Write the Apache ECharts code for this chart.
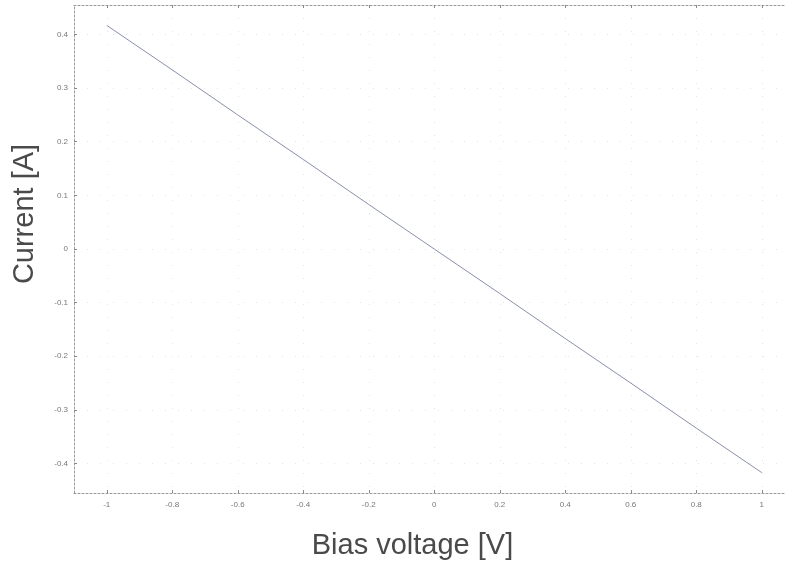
<!DOCTYPE html>
<html><head><meta charset="utf-8">
<script src="https://cdn.jsdelivr.net/npm/echarts@6/dist/echarts.min.js"></script>
<style>html,body{margin:0;padding:0;background:#fff;}#c{width:786px;height:567px;}</style>
</head><body><div id="c"></div>
<script>
var voltage = [-1, -0.8, -0.6, -0.4, -0.2, 0, 0.2, 0.4, 0.6, 0.8, 1];
var current = [0.417, 0.334, 0.250, 0.167, 0.083, 0, -0.083, -0.167, -0.250, -0.334, -0.417];
var xTicks = [-1, -0.8, -0.6, -0.4, -0.2, 0, 0.2, 0.4, 0.6, 0.8, 1];
var yTicks = [-0.4, -0.3, -0.2, -0.1, 0, 0.1, 0.2, 0.3, 0.4];

var chart = echarts.init(document.getElementById('c'), null, {renderer: 'canvas'});
var fmt = function (v) { return (Math.round(v * 10) / 10).toString(); };
var tickStyle = {show: true, inside: true, length: 3, lineStyle: {color: '#888', width: 1}};
var lineStyle = {color: '#999', width: 1, type: [2, 2]};
chart.setOption({
  animation: false,
  backgroundColor: '#fff',
  grid: {left: 74, top: 5, width: 712, height: 488, containLabel: false},
  xAxis: [{
    type: 'value', min: -1.1, max: 1.074, position: 'bottom',
    name: 'Bias voltage [V]', nameLocation: 'middle', nameGap: 38,
    nameTextStyle: {fontFamily: 'Liberation Sans', fontSize: 29, color: '#4a4a4a', padding: [0, 35, 0, 0]},
    axisLine: {show: true, onZero: false, lineStyle: lineStyle},
    axisTick: Object.assign({customValues: xTicks}, tickStyle),
    axisLabel: {customValues: xTicks, formatter: fmt, fontSize: 8, color: '#777', margin: 8, fontFamily: 'Liberation Sans'},
    splitLine: {show: true, lineStyle: {color: '#e4e4e4', width: 1, type: [1, 12]}}
  }, {
    type: 'value', min: -1.1, max: 1.074, position: 'top',
    axisLine: {show: true, onZero: false, lineStyle: lineStyle},
    axisTick: Object.assign({customValues: xTicks}, tickStyle),
    axisLabel: {show: false},
    splitLine: {show: false}
  }],
  yAxis: {
    type: 'value', min: -0.455, max: 0.455,
    name: 'Current [A]', nameLocation: 'middle', nameGap: 35, nameRotate: 90,
    nameTextStyle: {fontFamily: 'Liberation Sans', fontSize: 29, color: '#4a4a4a', padding: [0, 0, 0, 70]},
    axisLine: {show: true, onZero: false, lineStyle: lineStyle},
    axisTick: Object.assign({customValues: yTicks}, tickStyle),
    axisLabel: {customValues: yTicks, formatter: fmt, fontSize: 8, color: '#777', margin: 6, fontFamily: 'Liberation Sans'},
    splitLine: {show: true, lineStyle: {color: '#e4e4e4', width: 1, type: [1, 12]}}
  },
  series: [{
    type: 'line', xAxisIndex: 0,
    data: voltage.map(function (v, i) { return [v, current[i]]; }),
    showSymbol: false, symbol: 'none',
    lineStyle: {color: '#8a90a8', width: 1}
  }]
});
</script></body></html>
